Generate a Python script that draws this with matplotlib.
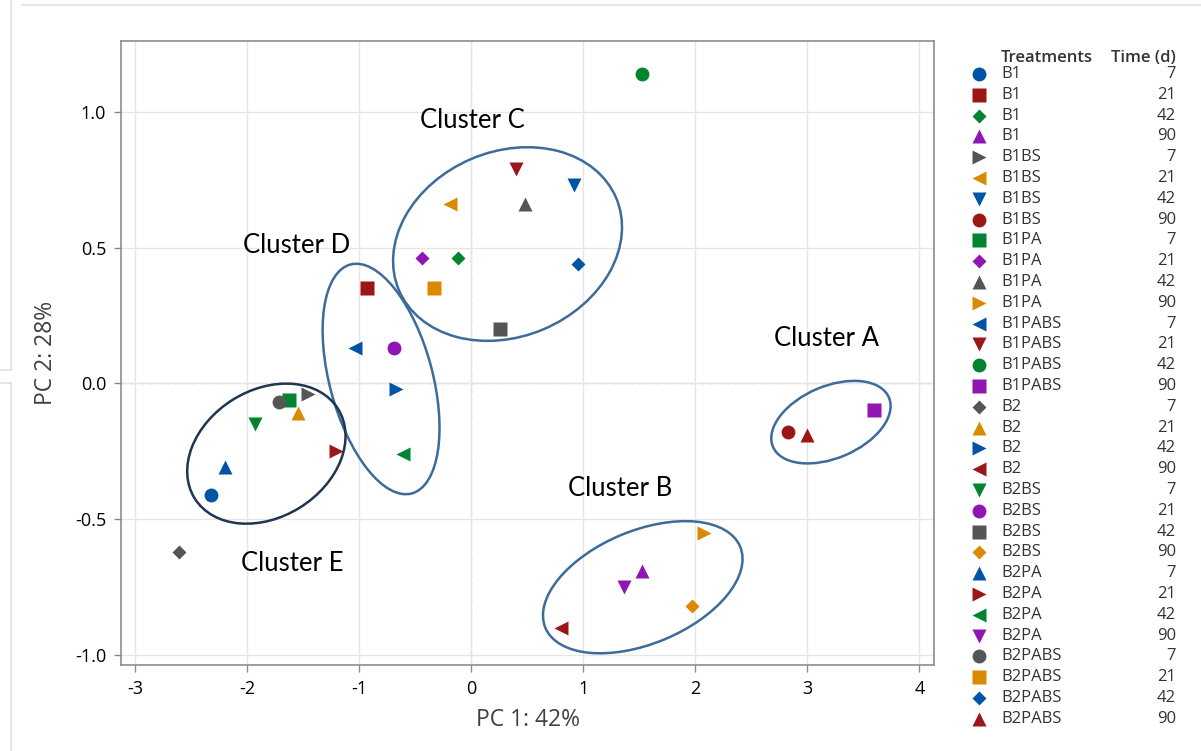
import matplotlib.pyplot as plt
from matplotlib.patches import Ellipse
from matplotlib.transforms import ScaledTranslation
from matplotlib.lines import Line2D

# PCA scores, one row per treatment / time
treatments = (["B1"] * 4 + ["B1BS"] * 4 + ["B1PA"] * 4 + ["B1PABS"] * 4 +
              ["B2"] * 4 + ["B2BS"] * 4 + ["B2PA"] * 4 + ["B2PABS"] * 4)
times = [7, 21, 42, 90] * 8
pc1 = [-2.32, -0.93, -0.12, 1.52,
       -1.46, -0.19, 0.92, 2.83,
       -1.63, -0.44, 0.48, 2.08,
       -1.04, 0.40, 1.52, 3.59,
       -2.61, -1.55, -0.67, 0.80,
       -1.93, -0.69, 0.26, 1.97,
       -2.20, -1.21, -0.61, 1.36,
       -1.72, -0.33, 0.95, 3.00]
pc2 = [-0.41, 0.35, 0.46, -0.69,
       -0.04, 0.66, 0.73, -0.18,
       -0.06, 0.46, 0.66, -0.55,
       0.13, 0.79, 1.14, -0.10,
       -0.62, -0.11, -0.02, -0.90,
       -0.15, 0.13, 0.20, -0.82,
       -0.31, -0.25, -0.26, -0.75,
       -0.07, 0.35, 0.44, -0.19]

palette = ["#0054a6", "#9b1717", "#00842f", "#9016b4", "#555555", "#d98a00"]
markers = ["o", "s", "D", "^", ">", "<", "v"]
msizes = {"o": 10, "s": 9.5, "D": 7.6, "^": 10.5, ">": 10.5, "<": 10.5, "v": 10.5}

# cluster outlines: label, label pos, centre, width/height in px, angle, colour
clusters = [
    ("Cluster A", (3.17, 0.166), (3.21, -0.143), 126, 72, 23, "#3d6b9a"),
    ("Cluster B", (1.33, -0.387), (1.53, -0.751), 211, 113, 22.6, "#3d6b9a"),
    ("Cluster C", (0.01, 0.967), (0.323, 0.513), 236, 185, 23, "#3d6b9a"),
    ("Cluster D", (-1.56, 0.509), (-0.806, 0.016), 237, 103, -75, "#3d6b9a"),
    ("Cluster E", (-1.60, -0.663), (-1.83, -0.259), 169, 127, 32, "#1f3550"),
]

W, H = 1201, 751
fig = plt.figure(figsize=(W / 100, H / 100), dpi=100)
ax = fig.add_axes([121.3 / W, 1 - 665 / H, (934 - 121.3) / W, (665 - 40.7) / H])

ax.set_xlim(-3.125, 4.13)
ax.set_ylim(-1.0375, 1.262)
ax.set_xticks(range(-3, 5))
ax.set_xticklabels([str(v) for v in range(-3, 5)])
yt = [-1.0, -0.5, 0.0, 0.5, 1.0]
ax.set_yticks(yt)
ax.set_yticklabels(["%.1f" % v for v in yt])
ax.grid(color="#e6e6e6", lw=1, zorder=0)
ax.axhline(0, color="#a0a0a0", ls=(0, (4, 3)), lw=0.9, zorder=1)
ax.axvline(0, color="#a0a0a0", ls=(0, (4, 3)), lw=0.9, zorder=1)
for s in ax.spines.values():
    s.set_color("#8c8c8c")
    s.set_linewidth(1.2)
ax.tick_params(colors="#8c8c8c", labelcolor="black", length=5, width=1,
               labelsize=13, pad=6)
for lbl in ax.get_xticklabels() + ax.get_yticklabels():
    lbl.set_family("Open Sans")

ax.set_xlabel("PC 1: 42%", fontsize=16.5, color="#404040", family="Open Sans",
              labelpad=7)
ax.set_ylabel("PC 2: 28%", fontsize=16.5, color="#404040", family="Open Sans",
              labelpad=12)

for i in range(len(pc1)):
    m = markers[i % 7]
    ax.plot(pc1[i], pc2[i], ls="none", marker=m, ms=msizes[m],
            color=palette[i % 6], mec="none", zorder=4)

for name, tpos, cen, w, h, ang, col in clusters:
    e = Ellipse((0, 0), w / 100, h / 100, angle=ang, fill=False, ec=col, lw=1.8,
                transform=fig.dpi_scale_trans + ScaledTranslation(cen[0], cen[1], ax.transData),
                zorder=3)
    ax.add_patch(e)
    ax.text(tpos[0], tpos[1], name, fontsize=18.5, family="Lato", ha="center",
            va="center", color="black", zorder=5)

# legend drawn on a pixel-space overlay
lg = fig.add_axes([0, 0, 1, 1], facecolor="none")
lg.set_xlim(0, W)
lg.set_ylim(H, 0)
lg.axis("off")
lg.text(1001, 58, "Treatments", fontsize=12, family="Open Sans",
        fontweight="semibold", color="#333333", va="center", ha="left")
lg.text(1176, 58, "Time (d)", fontsize=12, family="Open Sans",
        fontweight="semibold", color="#333333", va="center", ha="right")
for i in range(len(treatments)):
    y = 74 + 20.8 * i
    m = markers[i % 7]
    lg.plot(979, y, ls="none", marker=m, ms=msizes[m], color=palette[i % 6],
            mec="none")
    lg.text(1001, y, treatments[i], fontsize=12, family="Open Sans",
            color="#333333", va="center", ha="left")
    lg.text(1176, y, str(times[i]), fontsize=12, family="Open Sans",
            color="#333333", va="center", ha="right")

# faint window edges from the original screenshot
edge = "#e0e0e0"
for xs, ys in [([22, W], [5, 5]), ([11, 11], [0, 370]), ([0, 11], [370, 370]),
               ([0, 11], [383, 383]), ([11, 11], [383, H])]:
    fig.add_artist(Line2D([x / W for x in xs], [1 - y / H for y in ys],
                          transform=fig.transFigure, color=edge, lw=1.2))

fig.savefig("out.png", dpi=100)
